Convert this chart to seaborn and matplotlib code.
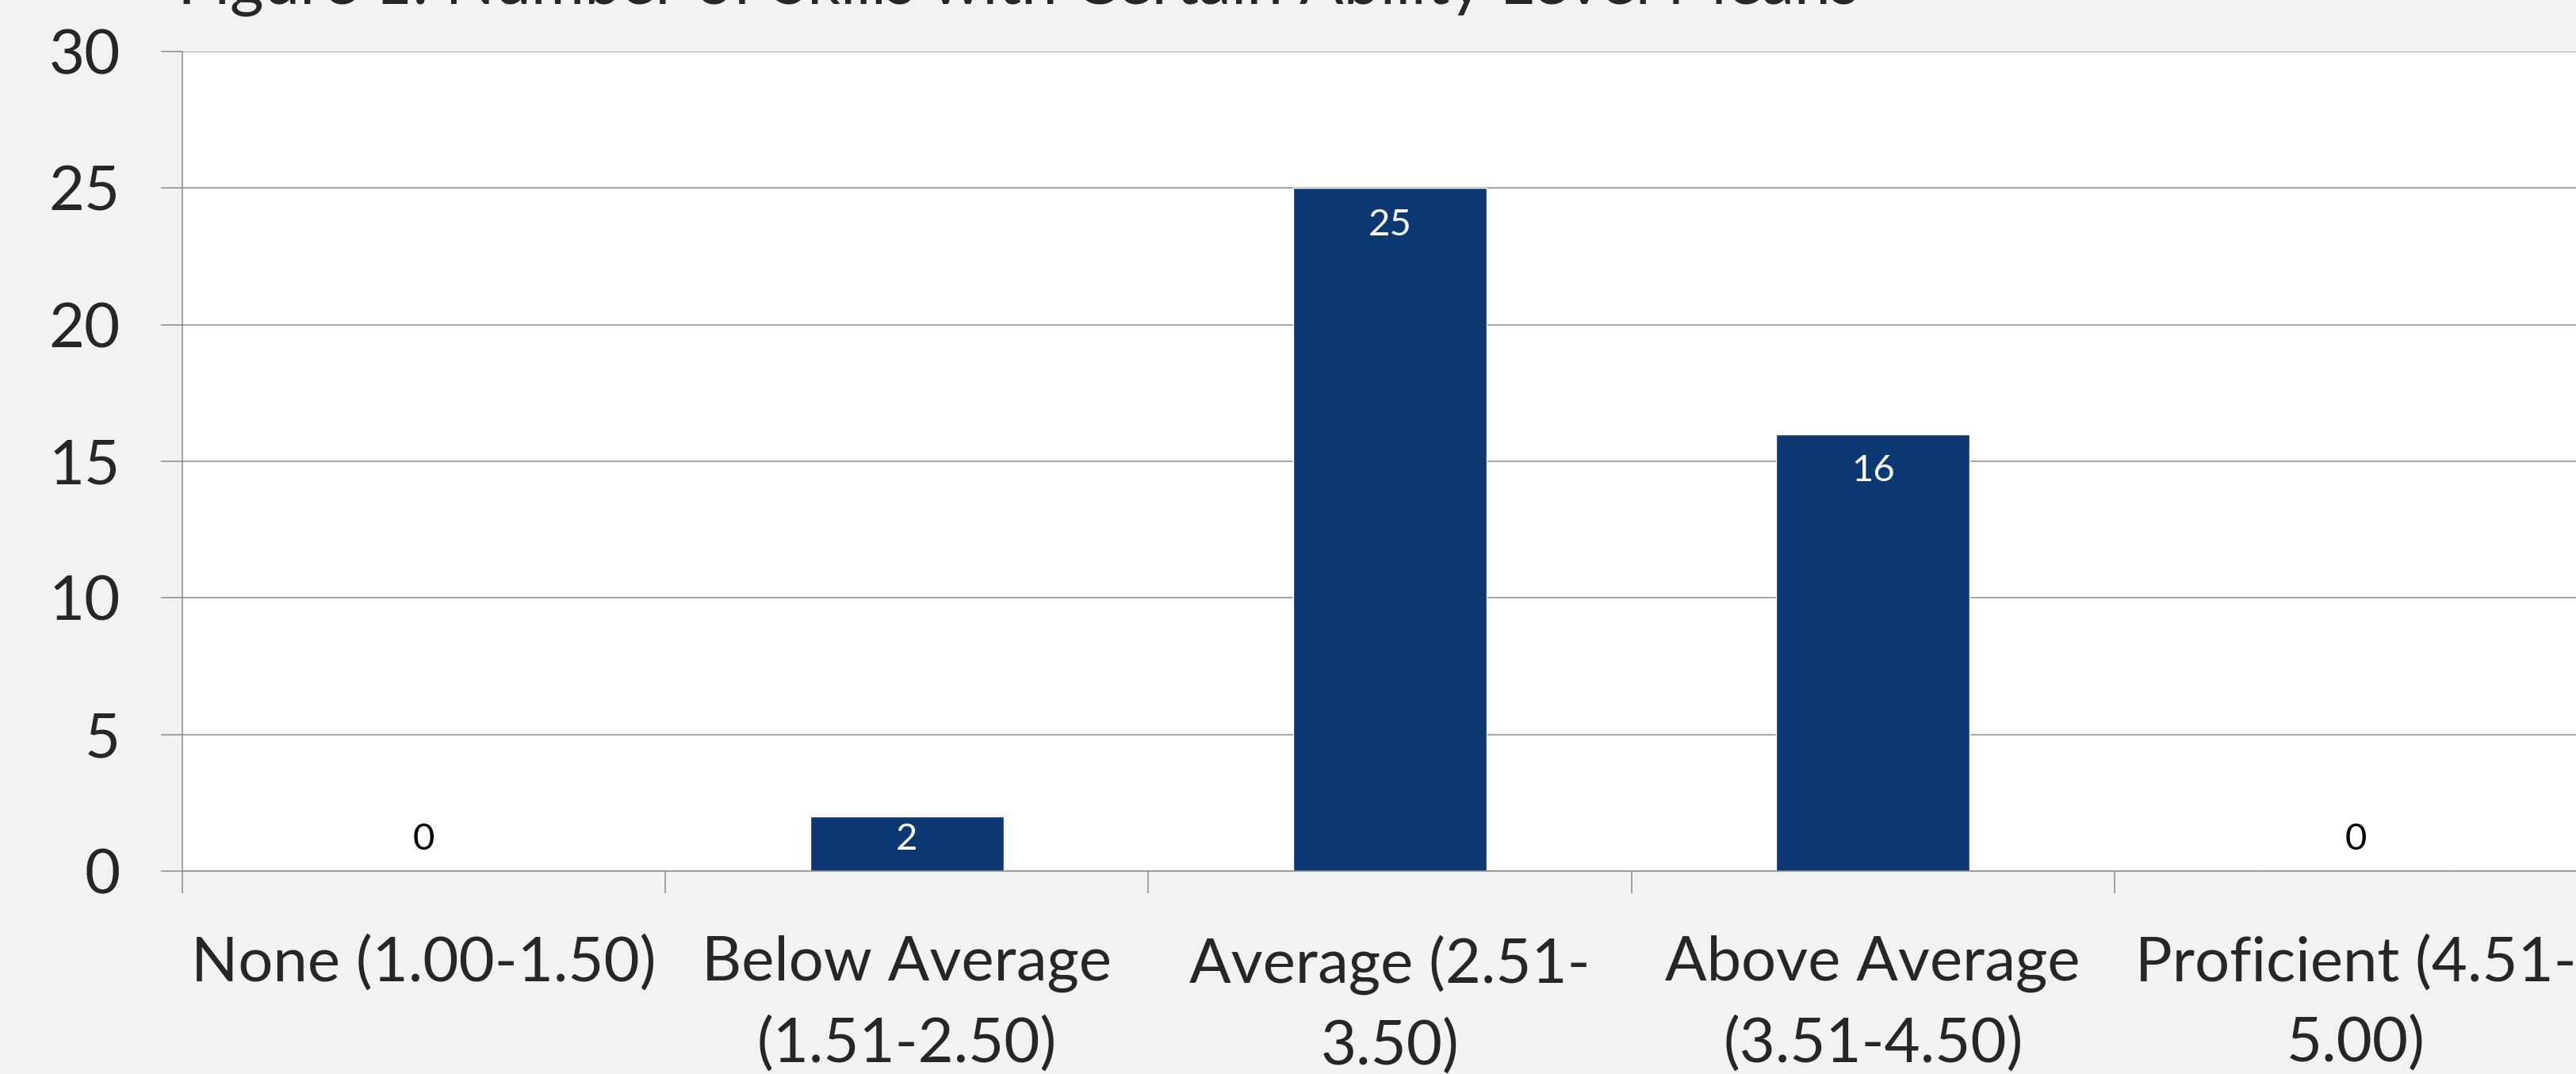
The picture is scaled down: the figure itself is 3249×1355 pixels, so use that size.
import numpy as np
import matplotlib
matplotlib.use('Agg')
import matplotlib.pyplot as plt
import seaborn as sns

# chart data
categories = ['None (1.00-1.50)', 'Below Average\n(1.51-2.50)', 'Average (2.51-\n3.50)',
              'Above Average\n(3.51-4.50)', 'Proficient (4.51-\n5.00)']
counts = [0, 2, 25, 16, 0]
title = 'Figure 1: Number of Skills with Certain Ability Level Means'

bar_color = '#0C3873'
grid_color = '#8C8C8C'

sns.set_style('white')
plt.rcParams['font.family'] = ['Lato', 'DejaVu Sans']

DPI = 100
fig = plt.figure(figsize=(32.49, 13.55), dpi=DPI, facecolor='#F2F2F2')
# plot area runs past the right edge, as in the reference crop
ax = fig.add_axes([230 / 3249, 1 - 1099 / 1355, 3046 / 3249, (1099 - 65) / 1355])
ax.set_facecolor('white')

sns.barplot(x=categories, y=counts, color=bar_color, width=0.4, saturation=1, ax=ax)

ax.set_xlim(-0.5, 4.5)
ax.set_ylim(0, 30)
ax.set_yticks(np.arange(0, 31, 5))
ax.set_xlabel('')
ax.set_ylabel('')

# gridlines and axes
ax.grid(axis='y', color=grid_color, lw=1.1)
ax.set_axisbelow(True)
for s in ['top', 'right']:
    ax.spines[s].set_visible(False)
for s in ['left', 'bottom']:
    ax.spines[s].set_color(grid_color)
    ax.spines[s].set_linewidth(1.1)

ax.tick_params(axis='y', which='major', direction='out', length=19.4, width=1.1,
               color=grid_color, pad=37, labelsize=56, left=True)
ax.set_xticks(np.arange(-0.5, 5.0, 1), minor=True)
ax.tick_params(axis='x', which='minor', direction='out', length=20, width=1.1,
               color=grid_color, bottom=True)
ax.tick_params(axis='x', which='major', length=0, pad=58, labelsize=56)
for lab in ax.get_xticklabels():
    lab.set_linespacing(1.52)

# data labels, Excel style: inside end, kept above the axis
for i, v in enumerate(counts):
    if v > 2.5:
        ax.annotate(str(v), xy=(i, v), xytext=(0, -33.8), textcoords='offset points',
                    ha='center', va='center', fontsize=34, color='white')
    else:
        ax.annotate(str(v), xy=(i, 0), xytext=(0, 28.8), textcoords='offset points',
                    ha='center', va='center', fontsize=34,
                    color='white' if v > 0 else 'black')

fig.text(224 / 3249, 1 - 5 / 1355, title, ha='left', va='baseline', fontsize=59)

fig.savefig('out.png', dpi=DPI, facecolor=fig.get_facecolor())
